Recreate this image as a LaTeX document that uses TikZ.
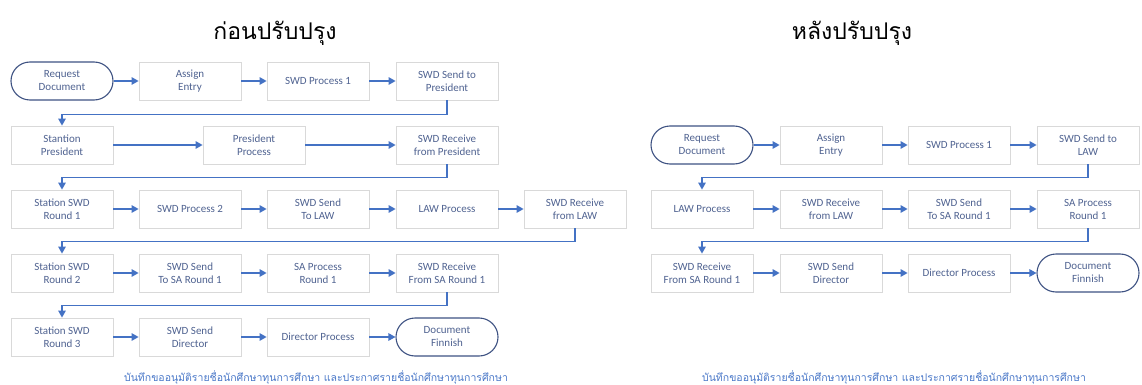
\documentclass[tikz,border=0pt]{standalone}
\usepackage{fontspec}
\setmainfont{Carlito}
\newfontfamily\thaifont[Script=Thai]{Loma}
\usetikzlibrary{arrows.meta}
\definecolor{arrowblue}{HTML}{4472C4}
\definecolor{boxgray}{HTML}{D9D9D9}
\definecolor{termblue}{HTML}{3E5282}
\definecolor{textblue}{HTML}{4F6290}
\definecolor{capblue}{HTML}{4A78C8}
\begin{document}
\begin{tikzpicture}[x=1pt,y=-1pt,
  proc/.style={draw=boxgray, line width=0.8pt, minimum width=102pt, minimum height=38pt, inner sep=0pt, align=center, text=textblue, font=\fontsize{11}{13}\selectfont},
  term/.style={proc, draw=termblue, line width=1.1pt, rounded corners=19pt},
  flow/.style={draw=arrowblue, line width=1.3pt, -{Triangle[length=7pt,width=7.5pt]}},
  ttl/.style={font=\thaifont\fontsize{23}{27}\selectfont},
  captext/.style={font=\thaifont\fontsize{10.5}{12}\selectfont, text=capblue}]
\useasboundingbox (0,0) rectangle (1142,385);
% titles
\node[ttl] (TL) at (275,33) {ก่อนปรับปรุง};
\node[ttl] (TR) at (852,33) {หลังปรับปรุง};
% left diagram
\node[term] (L1) at (62,81) {Request\\Document};
\node[proc] (L2) at (190,81) {Assign\\Entry};
\node[proc] (L3) at (318,81) {SWD Process 1};
\node[proc] (L4) at (447,81) {SWD Send to\\President};
\node[proc] (L5) at (62,145) {Stantion\\President};
\node[proc] (L6) at (254,145) {President\\Process};
\node[proc] (L7) at (447,145) {SWD Receive\\from President};
\node[proc] (L8) at (62,209) {Station SWD\\Round 1};
\node[proc] (L9) at (190,209) {SWD Process 2};
\node[proc] (L10) at (318,209) {SWD Send\\To LAW};
\node[proc] (L11) at (447,209) {LAW Process};
\node[proc] (L12) at (575,209) {SWD Receive\\from LAW};
\node[proc] (L13) at (62,273) {Station SWD\\Round 2};
\node[proc] (L14) at (190,273) {SWD Send\\To SA Round 1};
\node[proc] (L15) at (318,273) {SA Process\\Round 1};
\node[proc] (L16) at (447,273) {SWD Receive\\From SA Round 1};
\node[proc] (L17) at (62,337) {Station SWD\\Round 3};
\node[proc] (L18) at (190,337) {SWD Send\\Director};
\node[proc] (L19) at (318,337) {Director Process};
\node[term] (L20) at (447,337) {Document\\Finnish};
\draw[flow] (L1) -- (L2);
\draw[flow] (L2) -- (L3);
\draw[flow] (L3) -- (L4);
\draw[flow] (L4.south) -- ++(0,14) -| (L5.north);
\draw[flow] (L5) -- (L6);
\draw[flow] (L6) -- (L7);
\draw[flow] (L7.south) -- ++(0,13) -| (L8.north);
\draw[flow] (L8) -- (L9);
\draw[flow] (L9) -- (L10);
\draw[flow] (L10) -- (L11);
\draw[flow] (L11) -- (L12);
\draw[flow] (L12.south) -- ++(0,13) -| (L13.north);
\draw[flow] (L13) -- (L14);
\draw[flow] (L14) -- (L15);
\draw[flow] (L15) -- (L16);
\draw[flow] (L16.south) -- ++(0,13) -| (L17.north);
\draw[flow] (L17) -- (L18);
\draw[flow] (L18) -- (L19);
\draw[flow] (L19) -- (L20);
% right diagram
\node[term] (R1) at (702,145) {Request\\Document};
\node[proc] (R2) at (831,145) {Assign\\Entry};
\node[proc] (R3) at (959,145) {SWD Process 1};
\node[proc] (R4) at (1088,145) {SWD Send to\\LAW};
\node[proc] (R5) at (702,209) {LAW Process};
\node[proc] (R6) at (831,209) {SWD Receive\\from LAW};
\node[proc] (R7) at (959,209) {SWD Send\\To SA Round 1};
\node[proc] (R8) at (1088,209) {SA Process\\Round 1};
\node[proc] (R9) at (702,273) {SWD Receive\\From SA Round 1};
\node[proc] (R10) at (831,273) {SWD Send\\Director};
\node[proc] (R11) at (959,273) {Director Process};
\node[term] (R12) at (1088,273) {Document\\Finnish};
\draw[flow] (R1) -- (R2);
\draw[flow] (R2) -- (R3);
\draw[flow] (R3) -- (R4);
\draw[flow] (R4.south) -- ++(0,13) -| (R5.north);
\draw[flow] (R5) -- (R6);
\draw[flow] (R6) -- (R7);
\draw[flow] (R7) -- (R8);
\draw[flow] (R8.south) -- ++(0,13) -| (R9.north);
\draw[flow] (R9) -- (R10);
\draw[flow] (R10) -- (R11);
\draw[flow] (R11) -- (R12);
% captions
\node[captext] (CL) at (316,377) {บันทึกขออนุมัติรายชื่อนักศึกษาทุนการศึกษา และประกาศรายชื่อนักศึกษาทุนการศึกษา};
\node[captext] (CR) at (894,377) {บันทึกขออนุมัติรายชื่อนักศึกษาทุนการศึกษา และประกาศรายชื่อนักศึกษาทุนการศึกษา};
\end{tikzpicture}
\end{document}
